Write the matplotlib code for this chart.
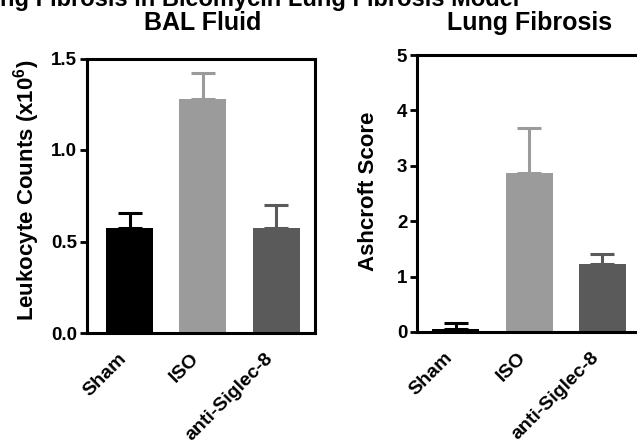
import matplotlib
matplotlib.use("Agg")
import matplotlib.pyplot as plt
import matplotlib.transforms as mtrans

plt.rcParams['font.family'] = ['Liberation Sans', 'DejaVu Sans']
plt.rcParams['font.weight'] = 'bold'
plt.rcParams['mathtext.fontset'] = 'custom'
plt.rcParams['mathtext.rm'] = 'Liberation Sans:bold'
plt.rcParams['mathtext.it'] = 'Liberation Sans:bold'
plt.rcParams['mathtext.bf'] = 'Liberation Sans:bold'

categories = ["Sham", "ISO", "anti-Siglec-8"]
bal_values = [0.573, 1.278, 0.573]
bal_errors = [0.082, 0.142, 0.127]
ash_values = [0.05, 2.875, 1.22]
ash_errors = [0.107, 0.815, 0.18]
bar_colors = ["#000000", "#9b9b9b", "#5a5a5a"]

suptitle = "Lung Fibrosis in Bleomycin Lung Fibrosis Model"
titles = ["BAL Fluid", "Lung Fibrosis"]
ylabels = [r"Leukocyte Counts (x10$^{6}$)", "Ashcroft Score"]
bal_yticks = [0.0, 0.5, 1.0, 1.5]
bal_yticklabels = ["0.0", "0.5", "1.0", "1.5"]
ash_yticks = [0, 1, 2, 3, 4, 5]

W, H = 637, 445
fig = plt.figure(figsize=(W / 100, H / 100), dpi=100)

ax1 = fig.add_axes([87 / W, (H - 333) / H, 228 / W, (333 - 58.5) / H])
ax2 = fig.add_axes([417 / W, (H - 332) / H, 228 / W, (332 - 55) / H])

lw = 2.2
panels = [
    (ax1, bal_values, bal_errors, (0, 1.5), bal_yticks, bal_yticklabels, (-0.58, 2.53), 203, 27, 190),
    (ax2, ash_values, ash_errors, (0, 5), ash_yticks, [str(v) for v in ash_yticks], (-0.53, 2.58), 530, 368, 191),
]
for i, (ax, vals, errs, ylim, yt, ytl, xlim, tx, lx, ly) in enumerate(panels):
    x = list(range(len(categories)))
    ax.bar(x, vals, width=0.64, color=bar_colors, zorder=2)
    for xi, v, e, c in zip(x, vals, errs, bar_colors):
        ax.errorbar([xi], [v], yerr=[[0], [e]], fmt='none', ecolor=c,
                    elinewidth=lw, capsize=8.6, capthick=lw, zorder=1)
    ax.set_xlim(*xlim)
    ax.set_ylim(*ylim)
    ax.set_yticks(yt)
    ax.set_yticklabels(ytl, fontsize=13.5, fontweight='bold')
    ax.set_xticks(x)
    ax.set_xticklabels(categories, fontsize=14, fontweight='bold', rotation=45, ha='right')
    off = mtrans.ScaledTranslation(8 / 100, 0, fig.dpi_scale_trans)
    for lab in ax.get_xticklabels():
        lab.set_transform(lab.get_transform() + off)
    ax.tick_params(axis='x', length=0, pad=12)
    ax.tick_params(axis='y', length=5, width=2, pad=2)
    for s in ax.spines.values():
        s.set_linewidth(2.2)
    fig.text(tx / W, 1 - 30 / H, titles[i], ha='center', va='baseline',
             fontsize=18, fontweight='bold')
    fig.text(lx / W, 1 - ly / H, ylabels[i], ha='center', va='center', rotation=90,
             fontsize=16, fontweight='bold')

fig.text(519 / W, 1 - 6 / H, suptitle, ha='right', va='baseline', fontsize=17, fontweight='bold')

fig.savefig("out.png", dpi=100)
